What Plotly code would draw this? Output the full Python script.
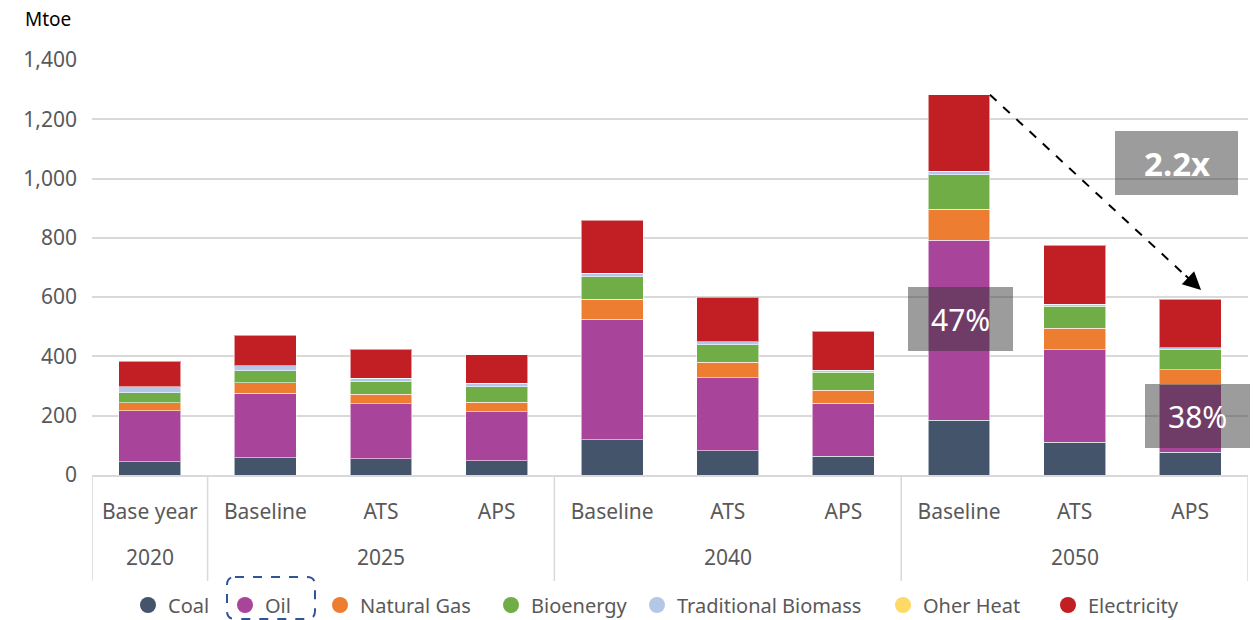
import plotly.graph_objects as go

# ---------------- data ----------------
years = ["2020", "2025", "2025", "2025", "2040", "2040", "2040", "2050", "2050", "2050"]
scenarios = ["Base year", "Baseline", "ATS", "APS", "Baseline", "ATS", "APS", "Baseline", "ATS", "APS"]

coal = [45, 58, 54, 48, 119, 82, 63, 184, 110, 77]
oil = [171, 218, 187, 166, 406, 246, 179, 608, 313, 228]
natural_gas = [28, 35, 32, 32, 68, 52, 44, 104, 72, 50]
bioenergy = [34, 40, 41, 52, 75, 60, 61, 117, 74, 70]
traditional_biomass = [19, 18, 13, 12, 13, 9, 6, 12, 7, 5]
other_heat = [0, 0, 0, 0, 0, 0, 0, 0, 0, 0]
electricity = [87, 103, 98, 96, 179, 150, 132, 258, 199, 163]

series_names = ["Coal", "Oil", "Natural Gas", "Bioenergy", "Traditional Biomass", "Oher Heat", "Electricity"]
series_values = [coal, oil, natural_gas, bioenergy, traditional_biomass, other_heat, electricity]
colors = ["#44546a", "#a8449a", "#ed7d31", "#70ad47", "#b4c7e7", "#ffd966", "#c11f24"]

y_ticks = [0, 200, 400, 600, 800, 1000, 1200, 1400]
y_tick_text = ["0", "200", "400", "600", "800", "1,000", "1,200", "1,400"]

labels_pct = ["47%", "38%"]
label_ratio = "2.2x"

# ---------------- figure ----------------
FONT = "Noto Sans"
GREY = "#595959"
GRID = "#d9d9d9"
BAR_W = 0.535
N = len(scenarios)
idx = list(range(N))

# geometry helpers (paper coordinates)
left_px, right_px, top_px, bottom_px = 92, 1248, 60, 475
W, H = 1253, 620
plot_w = right_px - left_px
plot_h = bottom_px - top_px
ymax = 1400


def py(v):
    return v / ymax


def px_x(p):
    return (p - left_px) / plot_w


def px_y(p):
    return (bottom_px - p) / plot_h


# legend marker centres (pixels) for each entry, one small legend per entry
legend_marker_px = [148, 245, 340, 511, 657, 903, 1068]

fig = go.Figure()
for name, vals, col in zip(series_names, series_values, colors):
    fig.add_trace(go.Bar(
        x=idx, y=vals, name=name,
        marker=dict(color=col, line=dict(color="rgba(255,255,255,0.55)", width=1)),
        width=BAR_W, showlegend=False,
    ))

legend_layouts = {}
for k, (name, col) in enumerate(zip(series_names, colors)):
    lname = "legend" if k == 0 else "legend%d" % (k + 1)
    fig.add_trace(go.Scatter(
        x=[None], y=[None], mode="markers", name=name,
        marker=dict(color=col, size=17, symbol="circle"),
        showlegend=True, legend=lname,
    ))
    legend_layouts[lname] = dict(
        orientation="h", x=px_x(legend_marker_px[k] - 20), xanchor="left",
        y=px_y(605), yanchor="middle", bgcolor="rgba(0,0,0,0)", borderwidth=0,
        font=dict(family=FONT, size=20, color=GREY), itemsizing="trace", itemwidth=30,
    )

totals = [sum(v) for v in zip(*series_values)]

shapes = []
annotations = []

# group labels (years) and dividers
groups = []
for i, yr in enumerate(years):
    if not groups or groups[-1][0] != yr:
        groups.append([yr, i, i])
    else:
        groups[-1][2] = i
for yr, a, b in groups:
    annotations.append(dict(xref="x", yref="paper", x=(a + b) / 2, y=px_y(557),
                            xanchor="center", yanchor="middle", text=yr, showarrow=False,
                            font=dict(family=FONT, size=21, color=GREY)))
div_positions = [groups[0][1] - 0.5] + [b + 0.5 for _, _, b in groups]
for xd in div_positions:
    shapes.append(dict(type="line", xref="x", yref="paper", x0=xd, x1=xd, y0=0, y1=px_y(581),
                       line=dict(color=GRID, width=1.5)))

# dashed arrow from top of 2050 Baseline to above 2050 APS
i_b, i_a = 7, 9
x0 = (i_b + 0.5 + BAR_W / 2) / N
y0 = py(totals[i_b])
x1 = (i_a + 0.5) / N + 0.0094
y1 = py(totals[i_a] + 31)
shapes.append(dict(type="line", xref="paper", yref="paper", x0=x0, y0=y0,
                   x1=x1 - (x1 - x0) * 0.05, y1=y1 - (y1 - y0) * 0.05,
                   line=dict(color="black", width=2, dash="dash")))
annotations.append(dict(xref="paper", yref="paper", x=x1, y=y1, text="",
                        showarrow=True, arrowhead=2, arrowsize=1.8, arrowwidth=2,
                        arrowcolor="black", ax=-17, ay=-16))

box_fill = "rgba(53,53,53,0.49)"


def box(xa, xb, ya, yb, text, bold=False, size=30):
    shapes.append(dict(type="rect", xref="paper", yref="paper", x0=px_x(xa), x1=px_x(xb),
                       y0=px_y(yb), y1=px_y(ya), fillcolor=box_fill, line=dict(width=0)))
    annotations.append(dict(xref="paper", yref="paper", x=(px_x(xa) + px_x(xb)) / 2,
                            y=(px_y(ya) + px_y(yb)) / 2, xanchor="center", yanchor="middle",
                            text=("<b>%s</b>" % text) if bold else text, showarrow=False,
                            font=dict(family=FONT, size=size, color="white")))


box(908, 1013, 287, 351, labels_pct[0])
box(1145, 1250, 384, 448, labels_pct[1])
box(1115, 1238, 131, 195, label_ratio, bold=True, size=33)

# Mtoe label
annotations.append(dict(xref="paper", yref="paper", x=px_x(23), y=px_y(19), xanchor="left",
                        yanchor="middle", text="Mtoe", showarrow=False,
                        font=dict(family=FONT, size=19, color="black")))

# dashed rounded box around Oil legend entry
bx0, bx1 = px_x(227), px_x(315)
by0, by1 = px_y(619), px_y(577)
rx, ry = 8 / plot_w, 8 / plot_h
path = (f"M {bx0 + rx},{by1} L {bx1 - rx},{by1} Q {bx1},{by1} {bx1},{by1 - ry} "
        f"L {bx1},{by0 + ry} Q {bx1},{by0} {bx1 - rx},{by0} L {bx0 + rx},{by0} "
        f"Q {bx0},{by0} {bx0},{by0 + ry} L {bx0},{by1 - ry} Q {bx0},{by1} {bx0 + rx},{by1} Z")
shapes.append(dict(type="path", xref="paper", yref="paper", path=path,
                   line=dict(color="#2f5597", width=2, dash="dash")))

fig.update_layout(
    barmode="stack",
    width=W, height=H,
    margin=dict(l=left_px, r=W - right_px, t=top_px, b=H - bottom_px, autoexpand=False),
    plot_bgcolor="white", paper_bgcolor="white",
    font=dict(family=FONT, color=GREY, size=20),
    showlegend=True,
    shapes=shapes,
    annotations=annotations,
    **legend_layouts,
)
fig.update_yaxes(range=[0, ymax], tickvals=y_ticks, ticktext=y_tick_text, automargin=False,
                 showgrid=True, gridcolor=GRID, gridwidth=1.5, zeroline=False,
                 showline=False, ticks="", ticklabelstandoff=14,
                 tickfont=dict(size=21, color=GREY))
fig.update_xaxes(range=[-0.5, N - 0.5], tickvals=idx, ticktext=scenarios, automargin=False,
                 showgrid=False, zeroline=False, showline=True, linecolor=GRID, linewidth=1.5,
                 ticks="", ticklabelstandoff=17, tickfont=dict(size=21, color=GREY))

fig.write_html("out.html")
